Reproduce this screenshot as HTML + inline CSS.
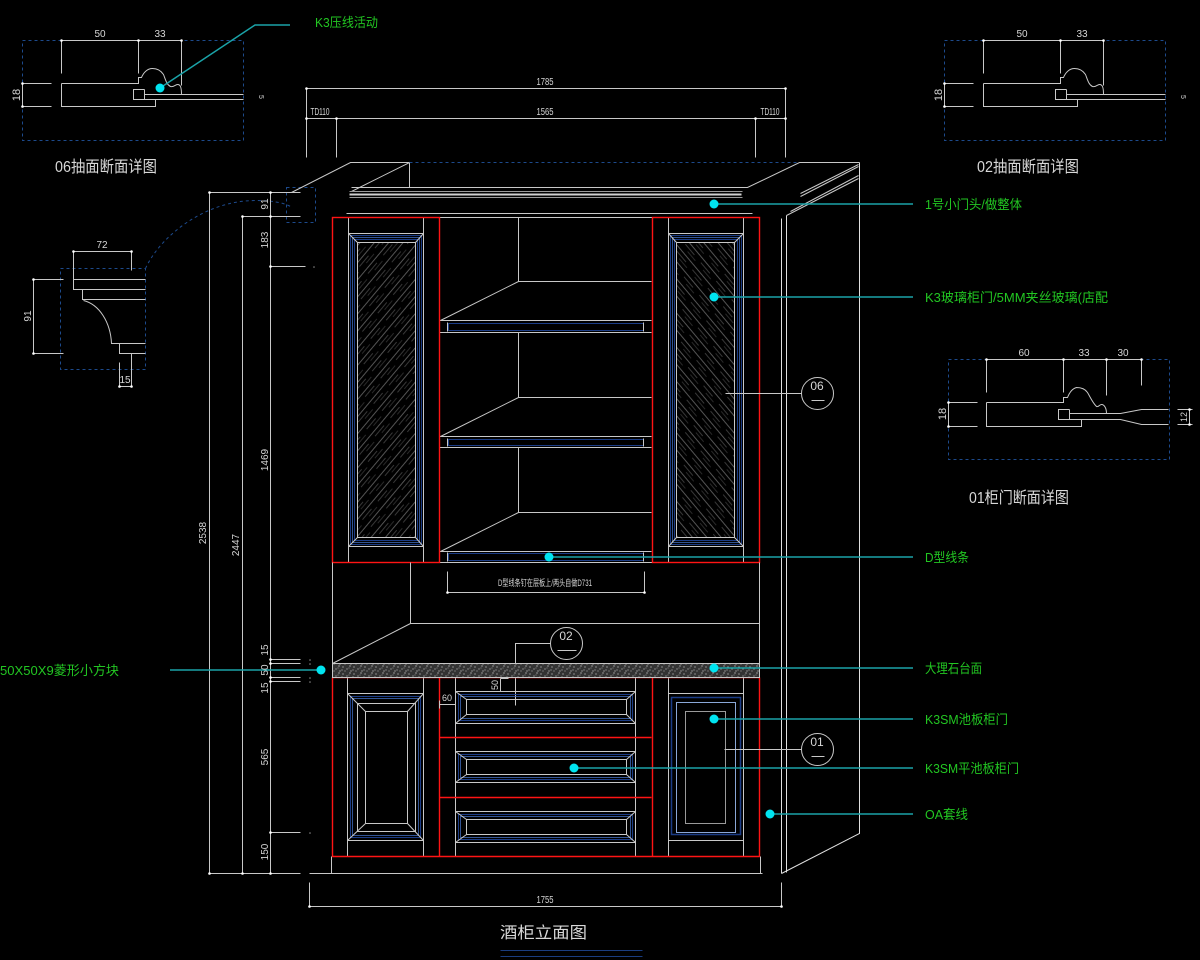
<!DOCTYPE html>
<html><head><meta charset="utf-8">
<style>
html,body{margin:0;padding:0;background:#000;}
svg{display:block}
.dt{fill:#d6d6d6;font-family:"Liberation Sans Narrow","Liberation Sans",sans-serif;font-size:10px;}
.gt{fill:#22c622;font-family:"Liberation Sans","Noto Sans CJK SC",sans-serif;font-size:13px;}
.tt{fill:#d8d8d8;font-family:"Liberation Sans","Noto Sans CJK SC",sans-serif;font-size:16px;}
</style></head><body>
<svg width="1200" height="960" viewBox="0 0 1200 960" xmlns="http://www.w3.org/2000/svg">
<defs>
<pattern id="hl" width="24" height="11" patternUnits="userSpaceOnUse" patternTransform="rotate(-50)">
<line x1="0" y1="2" x2="24" y2="2" stroke="#707070" stroke-width="0.8"/>
<line x1="3" y1="6" x2="17" y2="6" stroke="#505050" stroke-width="0.7"/>
<line x1="10" y1="9" x2="22" y2="9" stroke="#444" stroke-width="0.6"/>
</pattern>
<pattern id="hr" width="24" height="11" patternUnits="userSpaceOnUse" patternTransform="rotate(50)">
<line x1="0" y1="2" x2="24" y2="2" stroke="#707070" stroke-width="0.8"/>
<line x1="3" y1="6" x2="17" y2="6" stroke="#505050" stroke-width="0.7"/>
<line x1="10" y1="9" x2="22" y2="9" stroke="#444" stroke-width="0.6"/>
</pattern>
<pattern id="mb" width="11" height="7" patternUnits="userSpaceOnUse">
<rect width="11" height="7" fill="#333"/>
<rect x="1" y="1" width="1" height="1" fill="#e0e0e0"/>
<rect x="5" y="3" width="1" height="1" fill="#ccc"/>
<rect x="8" y="0" width="1" height="1" fill="#eee"/>
<rect x="3" y="5" width="1" height="1" fill="#aaa"/>
<rect x="9" y="5" width="1" height="1" fill="#ddd"/>
<rect x="7" y="2" width="1" height="1" fill="#888"/>
<rect x="0" y="4" width="1" height="1" fill="#bbb"/>
</pattern>
</defs>
<rect width="1200" height="960" fill="#000"/>

<g transform="translate(0.5,0.5)" fill="none" stroke="#c8c8c8" stroke-width="1">

<!-- ===== Detail 06 (top-left) ===== -->
<g>
<rect x="22" y="40" width="221" height="100" stroke="#1d4a8c" stroke-dasharray="3,3"/>
<path d="M61,40H181 M61,40V73 M138,40V73 M181,40V85"/>
<path d="M61,83H138V77H141C143,72 147,68 152,68C158,68 161,71 163,74C165,79 166,84 170,86C173,87 175,84 177,84C180,84 181,87 181,94"/>
<path d="M61,83V106H155V99 M144,89H133V99H144 M144,94H243 M144,99H243 M144,89V99"/>
<path d="M22,83V106 M22,83H51 M22,106H51"/>
</g>
<!-- ===== Detail 02 (top-right) ===== -->
<g transform="translate(922,0)">
<rect x="22" y="40" width="221" height="100" stroke="#1d4a8c" stroke-dasharray="3,3"/>
<path d="M61,40H181 M61,40V73 M138,40V73 M181,40V85"/>
<path d="M61,83H138V77H141C143,72 147,68 152,68C158,68 161,71 163,74C165,79 166,84 170,86C173,87 175,84 177,84C180,84 181,87 181,94"/>
<path d="M61,83V106H155V99 M144,89H133V99H144 M144,94H243 M144,99H243 M144,89V99"/>
<path d="M22,83V106 M22,83H51 M22,106H51"/>
</g>

<!-- ===== Detail 01 (right) ===== -->
<rect x="948" y="359" width="221" height="100" stroke="#1d4a8c" stroke-dasharray="3,3"/>
<path d="M986,359H1141 M986,359V392 M1063,359V392 M1106,359V395 M1141,359V385"/>
<path d="M986,402H1063V397H1067C1069,392 1072,388 1076,387C1081,387 1085,389 1087,392C1090,397 1092,402 1096,406C1098,407 1099,404 1101,404C1104,404 1106,408 1106,413"/>
<path d="M986,402V426H1081V419 M1069,409H1058V419H1069 M1069,413H1120L1141,409H1168 M1069,419H1120L1141,424H1168 M1069,409V419"/>
<path d="M948,402V426 M948,402H977 M948,426H977"/>
<path d="M1189,409V424 M1177,409H1192 M1177,424H1192"/>

<!-- ===== Left molding detail ===== -->
<rect x="60" y="268" width="85" height="101" stroke="#1d4a8c" stroke-dasharray="3,3"/>
<path d="M73,251H131 M73,251V279 M131,251V270"/>
<path d="M145,279H73V289H145 M82,289V299H145 M83,300C99,304 110,322 111,343H145 M119,343V353H145"/>
<path d="M33,279V353 M33,279H63 M33,353H63"/>
<path d="M119,386H131 M119,362V386 M131,353V386"/>
<path d="M145,268C160,235 205,200 255,200C270,200 283,202 290,206" stroke="#1d4a8c" stroke-dasharray="3,3"/>
<rect x="286" y="187" width="29" height="35" stroke="#1d4a8c" stroke-dasharray="3,3"/>

<!-- ===== Left dims ===== -->
<path d="M209,192V873 M242,216V873 M270,192V873"/>
<path d="M209,192H300 M242,216H300 M270,266H305 M270,659H300 M270,663H300 M270,677H300 M270,681H300 M270,832H300 M209,873H300 M310,873H330"/>

<!-- ===== Top dims ===== -->
<path d="M306,88H785 M306,118H785 M306,88V157 M336,118V157 M755,118V157 M785,88V157"/>

<!-- ===== Cornice ===== -->
<path d="M291,192L350,162H409 M351,191L409,162V187 M351,187H747L799,162H859"/>
<path d="M409,162H799" stroke="#1d4a8c" stroke-dasharray="3,3"/>
<path d="M349,191H742 M349,197H742" stroke="#9a9a9a"/>
<path d="M349,194H741" stroke="#d0d0d0" stroke-width="2"/>
<path d="M346,213H752"/>
<path d="M800,196L858,166 M800,193L858,164 M786,215L858,178 M790,211L858,175"/>
<path d="M859,162V833L781,873 M781,218V873 M786,215V872" stroke="#e0e0e0"/>

<!-- ===== Upper section ===== -->
<path d="M439,217H652"/>
<path d="M348,217V562 M423,217V562 M668,217V562 M743,217V562"/>
<!-- left upper door -->
<rect x="357" y="242" width="58" height="295" fill="url(#hl)"/>
<rect x="348" y="233" width="75" height="313"/>
<rect x="350" y="235" width="71" height="309" stroke="#1b3c86"/>
<rect x="352" y="237" width="67" height="305" stroke="#3f6ab8" stroke-width="0.8"/>
<rect x="354" y="239" width="63" height="301" stroke="#1b3c86"/>
<path d="M348,233L357,242 M423,233L415,242 M348,546L357,537 M423,546L415,537"/>
<!-- right upper door -->
<rect x="676" y="242" width="58" height="295" fill="url(#hr)"/>
<rect x="668" y="233" width="75" height="313"/>
<rect x="670" y="235" width="71" height="309" stroke="#1b3c86"/>
<rect x="672" y="237" width="67" height="305" stroke="#3f6ab8" stroke-width="0.8"/>
<rect x="674" y="239" width="63" height="301" stroke="#1b3c86"/>
<path d="M668,233L676,242 M743,233L734,242 M668,546L676,537 M743,546L734,537"/>
<!-- shelves -->
<path d="M518,217V281H651 M518,281L440,320 M439,320H651 M439,332H651 M518,332V397H651 M518,397L440,436 M439,436H651 M439,447H651 M518,447V512H651 M518,512L440,551 M439,551H651"/>
<rect x="448" y="323" width="195" height="7" stroke="#1b3c86"/>
<rect x="448" y="439" width="195" height="6" stroke="#1b3c86"/>
<rect x="448" y="553" width="195" height="7" stroke="#1b3c86"/>
<path d="M447,322V331 M643,322V331 M447,438V446 M643,438V446 M447,552V561 M643,552V561"/>
<path d="M332,562H759"/>
<!-- red upper doors -->
<rect x="332" y="217" width="107" height="345" stroke="#ff1414" stroke-width="1.4"/>
<rect x="652" y="217" width="107" height="345" stroke="#ff1414" stroke-width="1.4"/>

<!-- ===== Middle ===== -->
<path d="M332,562V663 M759,562V663 M410,562V623H759 M410,623L332,663"/>
<path d="M447,571V592H644 M644,571V592"/>
<circle cx="566" cy="643" r="16"/>
<path d="M557,650H576 M550,643H515V705"/>

<!-- ===== Lower ===== -->
<path d="M347,677V856 M423,677V856 M455,677V856 M635,677V856 M668,677V856 M743,677V856"/>
<!-- lower left door -->
<rect x="347" y="693" width="76" height="147"/>
<rect x="350" y="696" width="70" height="141" stroke="#1b3c86"/>
<rect x="352" y="698" width="66" height="137" stroke="#3f6ab8" stroke-width="0.8"/>
<rect x="357" y="703" width="58" height="128"/>
<rect x="365" y="711" width="42" height="112"/>
<path d="M347,693L365,711 M423,693L407,711 M347,840L365,823 M423,840L407,823"/>
<!-- drawers -->
<rect x="455" y="691" width="180" height="32"/>
<rect x="458" y="694" width="174" height="26" stroke="#1b3c86"/>
<rect x="460" y="696" width="170" height="22" stroke="#3f6ab8" stroke-width="0.8"/>
<rect x="466" y="699" width="160" height="15"/>
<path d="M455,691L466,699 M635,691L626,699 M455,723L466,714 M635,723L626,714"/>
<rect x="455" y="751" width="180" height="31"/>
<rect x="458" y="754" width="174" height="25" stroke="#1b3c86"/>
<rect x="460" y="756" width="170" height="21" stroke="#3f6ab8" stroke-width="0.8"/>
<rect x="466" y="759" width="160" height="15"/>
<path d="M455,751L466,759 M635,751L626,759 M455,782L466,774 M635,782L626,774"/>
<rect x="455" y="811" width="180" height="31"/>
<rect x="458" y="814" width="174" height="25" stroke="#1b3c86"/>
<rect x="460" y="816" width="170" height="21" stroke="#3f6ab8" stroke-width="0.8"/>
<rect x="466" y="819" width="160" height="15"/>
<path d="M455,811L466,819 M635,811L626,819 M455,842L466,834 M635,842L626,834"/>
<!-- lower right door -->
<rect x="668" y="693" width="75" height="147"/>
<rect x="671" y="697" width="69" height="137" stroke="#1b3c86" stroke-width="1.5"/>
<rect x="676" y="702" width="59" height="130" stroke="#8aa8d8"/>
<rect x="685" y="711" width="40" height="112" stroke="#9a9a9a"/>
<!-- red lower -->
<path d="M332,677V856H759V677 M439,677V856 M652,677V856 M439,737H651 M439,797H651 M332,677H759" stroke="#ff1414" stroke-width="1.4"/>
<!-- marble -->
<rect x="332" y="663" width="427" height="14" fill="url(#mb)" stroke="#c8c8c8"/>
<!-- small dims -->
<path d="M500,678V691 M500,678H508 M500,691H508 M439,704H455 M439,700V708 M455,700V708"/>
<!-- plinth -->
<path d="M331,856V873 M760,856V873 M309,873H762"/>
<path d="M309,882V906H781V882"/>
<!-- circles right -->
<circle cx="817" cy="393" r="16"/>
<path d="M811,400H824 M725,393H801"/>
<circle cx="817" cy="749" r="16"/>
<path d="M811,756H824 M724,749H801"/>
<!-- title underline -->
<path d="M500,950H642 M500,956H642" stroke="#1a3d80"/>
</g>

<!-- dim dots -->
<g fill="#fff">
<circle cx="61.5" cy="40.5" r="1.3"/><circle cx="138.5" cy="40.5" r="1.3"/><circle cx="181.5" cy="40.5" r="1.3"/>
<circle cx="22.5" cy="83.5" r="1.3"/><circle cx="22.5" cy="106.5" r="1.3"/>
<circle cx="983.5" cy="40.5" r="1.3"/><circle cx="1060.5" cy="40.5" r="1.3"/><circle cx="1103.5" cy="40.5" r="1.3"/>
<circle cx="944.5" cy="83.5" r="1.3"/><circle cx="944.5" cy="106.5" r="1.3"/>
<circle cx="986.5" cy="359.5" r="1.3"/><circle cx="1063.5" cy="359.5" r="1.3"/><circle cx="1106.5" cy="359.5" r="1.3"/><circle cx="1141.5" cy="359.5" r="1.3"/>
<circle cx="948.5" cy="402.5" r="1.3"/><circle cx="948.5" cy="426.5" r="1.3"/>
<circle cx="1189.5" cy="409.5" r="1.3"/><circle cx="1189.5" cy="424.5" r="1.3"/>
<circle cx="73.5" cy="251.5" r="1.3"/><circle cx="131.5" cy="251.5" r="1.3"/>
<circle cx="33.5" cy="279.5" r="1.3"/><circle cx="33.5" cy="353.5" r="1.3"/>
<circle cx="119.5" cy="386.5" r="1.3"/><circle cx="131.5" cy="386.5" r="1.3"/>
<circle cx="306.5" cy="88.5" r="1.3"/><circle cx="785.5" cy="88.5" r="1.3"/>
<circle cx="306.5" cy="118.5" r="1.3"/><circle cx="336.5" cy="118.5" r="1.3"/><circle cx="755.5" cy="118.5" r="1.3"/><circle cx="785.5" cy="118.5" r="1.3"/>
<circle cx="209.5" cy="192.5" r="1.3"/><circle cx="270.5" cy="192.5" r="1.3"/><circle cx="242.5" cy="216.5" r="1.3"/><circle cx="270.5" cy="216.5" r="1.3"/>
<circle cx="270.5" cy="266.5" r="1.3"/><circle cx="270.5" cy="659.5" r="1.3"/><circle cx="270.5" cy="663.5" r="1.3"/><circle cx="270.5" cy="677.5" r="1.3"/><circle cx="270.5" cy="681.5" r="1.3"/><circle cx="270.5" cy="832.5" r="1.3"/>
<circle cx="209.5" cy="873.5" r="1.3"/><circle cx="242.5" cy="873.5" r="1.3"/><circle cx="270.5" cy="873.5" r="1.3"/>
<circle cx="447.5" cy="592.5" r="1.3"/><circle cx="644.5" cy="592.5" r="1.3"/>
<circle cx="309.5" cy="906.5" r="1.3"/><circle cx="781.5" cy="906.5" r="1.3"/>
</g>
<g fill="#888">
<circle cx="314" cy="267" r="0.8"/><circle cx="310" cy="660" r="0.8"/><circle cx="310" cy="664" r="0.8"/><circle cx="310" cy="678" r="0.8"/><circle cx="310" cy="682" r="0.8"/><circle cx="310" cy="833" r="0.8"/>
</g>

<!-- leaders -->
<g stroke="#1aa3a8" stroke-width="1.5" fill="none">
<path d="M160,88L255,25H290"/>
<path d="M714,204H913 M714,297H913 M549,557H913 M714,668H913 M714,719H913 M574,768H913 M770,814H913"/>
<path d="M170,670H321"/>
</g>
<g fill="#00e4f0">
<circle cx="160" cy="88" r="4.5"/>
<circle cx="714" cy="204" r="4.5"/><circle cx="714" cy="297" r="4.5"/><circle cx="549" cy="557" r="4.5"/>
<circle cx="714" cy="668" r="4.5"/><circle cx="714" cy="719" r="4.5"/><circle cx="574" cy="768" r="4.5"/>
<circle cx="770" cy="814" r="4.5"/><circle cx="321" cy="670" r="4.5"/>
</g>

<!-- dim texts -->
<g class="dt" text-anchor="middle">
<text x="100" y="37">50</text><text x="160" y="37">33</text>
<text x="1022" y="37">50</text><text x="1082" y="37">33</text>
<text x="1024" y="356">60</text><text x="1084" y="356">33</text><text x="1123" y="356">30</text>
<text x="102" y="248">72</text><text x="125" y="383">15</text>
<text x="545" y="85" textLength="17" lengthAdjust="spacingAndGlyphs">1785</text>
<text x="545" y="115" textLength="17" lengthAdjust="spacingAndGlyphs">1565</text>
<text x="320" y="115" textLength="19" lengthAdjust="spacingAndGlyphs">TD110</text>
<text x="770" y="115" textLength="19" lengthAdjust="spacingAndGlyphs">TD110</text>
<text x="545" y="903" textLength="17" lengthAdjust="spacingAndGlyphs">1755</text>
<text x="447" y="701" font-size="9">60</text>
<text x="545" y="586" font-size="9" textLength="94" lengthAdjust="spacingAndGlyphs" font-family="Liberation Sans, Noto Sans CJK SC, sans-serif">D型线条钉在层板上/两头自做D731</text>
<text x="566" y="640" font-size="12">02</text>
<text x="817" y="390" font-size="12">06</text>
<text x="817" y="746" font-size="12">01</text>
<text transform="rotate(-90 20 95)" x="20" y="95" font-size="11">18</text>
<text transform="rotate(-90 942 95)" x="942" y="95" font-size="11">18</text>
<text transform="rotate(-90 946 414)" x="946" y="414" font-size="11">18</text>
<text transform="rotate(-90 1187 417)" x="1187" y="417" font-size="9">12</text>
<text transform="rotate(90 259 97)" x="259" y="97" font-size="7">5</text>
<text transform="rotate(90 1181 97)" x="1181" y="97" font-size="7">5</text>
<text transform="rotate(-90 31 316)" x="31" y="316">91</text>
<text transform="rotate(-90 268 204)" x="268" y="204">91</text>
<text transform="rotate(-90 268 240)" x="268" y="240">183</text>
<text transform="rotate(-90 268 460)" x="268" y="460">1469</text>
<text transform="rotate(-90 206 533)" x="206" y="533">2538</text>
<text transform="rotate(-90 239 545)" x="239" y="545">2447</text>
<text transform="rotate(-90 268 650)" x="268" y="650">15</text>
<text transform="rotate(-90 268 670)" x="268" y="670">50</text>
<text transform="rotate(-90 268 688)" x="268" y="688">15</text>
<text transform="rotate(-90 268 757)" x="268" y="757">565</text>
<text transform="rotate(-90 268 852)" x="268" y="852">150</text>
<text transform="rotate(-90 498 685)" x="498" y="685" font-size="9">50</text>
</g>

<!-- titles -->
<text class="tt" x="55" y="172" textLength="102" lengthAdjust="spacingAndGlyphs">06抽面断面详图</text>
<text class="tt" x="977" y="172" textLength="102" lengthAdjust="spacingAndGlyphs">02抽面断面详图</text>
<text class="tt" x="969" y="503" textLength="100" lengthAdjust="spacingAndGlyphs">01柜门断面详图</text>
<text class="tt" x="500" y="938" font-size="18" textLength="87" lengthAdjust="spacingAndGlyphs">酒柜立面图</text>

<!-- green labels -->
<text class="gt" x="315" y="27" textLength="63" lengthAdjust="spacingAndGlyphs">K3压线活动</text>
<text class="gt" x="925" y="209" textLength="97" lengthAdjust="spacingAndGlyphs">1号小门头/做整体</text>
<text class="gt" x="925" y="302" textLength="183" lengthAdjust="spacingAndGlyphs">K3玻璃柜门/5MM夹丝玻璃(店配</text>
<text class="gt" x="925" y="562" textLength="44" lengthAdjust="spacingAndGlyphs">D型线条</text>
<text class="gt" x="925" y="673" textLength="57" lengthAdjust="spacingAndGlyphs">大理石台面</text>
<text class="gt" x="925" y="724" textLength="83" lengthAdjust="spacingAndGlyphs">K3SM池板柜门</text>
<text class="gt" x="925" y="773" textLength="94" lengthAdjust="spacingAndGlyphs">K3SM平池板柜门</text>
<text class="gt" x="925" y="819" textLength="43" lengthAdjust="spacingAndGlyphs">OA套线</text>
<text class="gt" x="0" y="675" font-size="14" textLength="119" lengthAdjust="spacingAndGlyphs">50X50X9菱形小方块</text>
</svg>
</body></html>
